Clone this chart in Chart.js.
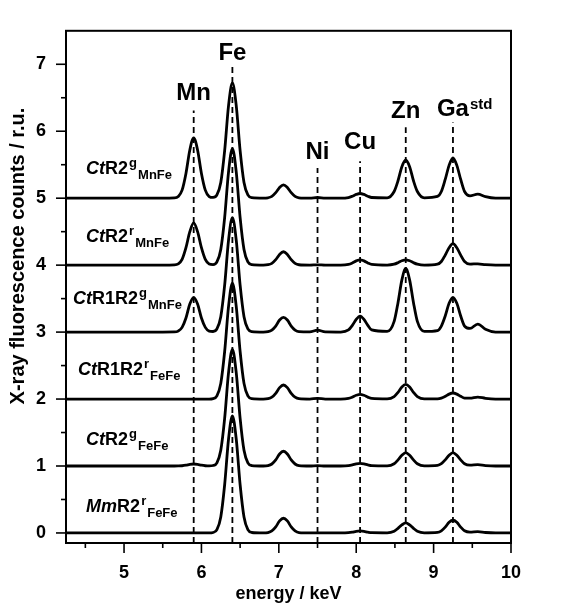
<!DOCTYPE html>
<html lang="en">
<head>
  <meta charset="UTF-8">
  <title>X-ray fluorescence spectra</title>
  <script src="https://cdn.jsdelivr.net/npm/chart.js"></script>
  <style>
    html, body { margin: 0; padding: 0; background: #fff; }
    .chart-box { position: relative; width: 563px; height: 605px; }
  </style>
</head>
<body>
<div class="chart-box"><canvas id="xrfChart"></canvas></div>

<script>
  // energy grid (keV), shared by all spectra
  const energy = [4.25, 5.5, 5.65, 5.7, 5.75, 5.8, 5.85, 5.9, 5.95, 6.0,
    6.05, 6.1, 6.15, 6.2, 6.25, 6.3, 6.35, 6.4, 6.45, 6.5,
    6.55, 6.6, 6.65, 6.8, 6.86, 6.91, 6.96, 7.01, 7.06, 7.11,
    7.16, 7.21, 7.26, 7.4, 7.5, 7.6, 7.8, 7.9, 7.95, 8.0,
    8.05, 8.1, 8.15, 8.2, 8.4, 8.49, 8.54, 8.59, 8.64, 8.69,
    8.74, 8.79, 8.88, 9.05, 9.1, 9.15, 9.2, 9.25, 9.3, 9.35,
    9.4, 9.47, 9.57, 9.67, 9.8, 10.0];

  // counts (r.u.), bottom trace first
  const mmR2rFeFe = [0, 0, 0, 0, 0, 0, 0, 0, 0, 0,
    0, 0, .007, .049, .24, .72, 1.4, 1.75, 1.4, .72,
    .24, .049, .007, 0, .006, .03, .09, .18, .22, .18,
    .09, .03, .006, 0, 0, 0, 0, .004, .012, .024,
    .03, .024, .012, .004, .002, .026, .069, .12, .15, .12,
    .069, .026, .002, .008, .032, .087, .16, .19, .16, .087,
    .032, .012, .02, .007, 0, 0];
  const ctR2gFeFe = [0, 0, 0, .001, .004, .012, .024, .03, .024, .012,
    .004, .001, .007, .048, .235, .71, 1.39, 1.74, 1.39, .71,
    .235, .048, .007, 0, .006, .03, .09, .18, .22, .18,
    .09, .03, .006, 0, .005, 0, 0, .005, .016, .032,
    .04, .032, .016, .005, .002, .034, .092, .16, .2, .16,
    .092, .034, .002, .009, .034, .092, .16, .2, .16, .092,
    .034, .012, .02, .007, 0, 0];
  const ctR1R2rFeFe = [0, 0, 0, 0, 0, 0, 0, 0, 0, 0,
    0, 0, .007, .048, .234, .71, 1.38, 1.73, 1.38, .71,
    .234, .048, .007, 0, .006, .028, .086, .17, .21, .17,
    .086, .028, .006, 0, .01, 0, 0, .009, .029, .056,
    .07, .056, .029, .009, .002, .037, .1, .18, .22, .18,
    .1, .037, .002, .004, .015, .041, .074, .09, .074, .041,
    .015, .013, .03, .011, 0, 0];
  const ctR1R2gMnFe = [0, 0, .002, .015, .07, .21, .42, .52, .42, .21,
    .07, .015, .009, .047, .23, .7, 1.37, 1.71, 1.37, .7,
    .23, .047, .007, 0, .006, .03, .09, .18, .22, .18,
    .09, .03, .006, .003, .03, .003, .001, .032, .1, .19,
    .24, .19, .1, .032, .01, .16, .44, .78, .95, .78,
    .44, .16, .01, .023, .09, .24, .43, .52, .43, .24,
    .09, .055, .12, .043, .001, 0];
  const ctR2rMnFe = [0, 0, .003, .018, .085, .26, .5, .63, .5, .26,
    .085, .018, .009, .048, .235, .71, 1.39, 1.74, 1.39, .71,
    .235, .048, .007, 0, .006, .027, .082, .16, .2, .16,
    .082, .027, .006, 0, .005, 0, 0, .011, .033, .064,
    .08, .064, .033, .011, .001, .014, .037, .066, .08, .066,
    .037, .014, 0, .014, .054, .15, .26, .32, .26, .15,
    .054, .015, .02, .007, 0, 0];
  const ctR2gMnFe = [0, 0, .004, .025, .12, .37, .72, .9, .72, .37,
    .12, .025, .011, .048, .234, .71, 1.38, 1.72, 1.38, .71,
    .234, .048, .007, 0, .006, .027, .082, .16, .2, .16,
    .082, .027, .006, 0, .01, 0, 0, .01, .03, .056,
    .07, .056, .03, .01, .006, .1, .26, .47, .57, .47,
    .26, .1, .006, .026, .1, .28, .49, .6, .49, .28,
    .1, .036, .06, .022, 0, 0];

  const spectra = [mmR2rFeFe, ctR2gFeFe, ctR1R2rFeFe, ctR1R2gMnFe, ctR2rMnFe, ctR2gMnFe];
  const offsets = [0, 1, 2, 3, 4, 5];

  // sample labels: italic organism prefix, protein, superscript, subscript
  const labelPrefix = ['Mm', 'Ct', 'Ct', 'Ct', 'Ct', 'Ct'];
  const labelCore = ['R2', 'R2', 'R1R2', 'R1R2', 'R2', 'R2'];
  const labelSup = ['r', 'g', 'r', 'g', 'r', 'g'];
  const labelSub = ['FeFe', 'FeFe', 'FeFe', 'MnFe', 'MnFe', 'MnFe'];
  const labelX = [4.51, 4.51, 4.405, 4.34, 4.51, 4.51];
  const labelY = [0.31, 1.31, 2.36, 3.42, 4.35, 5.36];

  // element emission lines
  const lineNames = ['Mn', 'Fe', 'Ni', 'Cu', 'Zn', 'Ga'];
  const lineEnergy = [5.9, 6.4, 7.5, 8.05, 8.64, 9.25];
  const lineTop = [6.31, 6.96, 5.45, 5.55, 6.06, 6.13];
  const lineTextY = [6.46, 7.07, 5.59, 5.74, 6.2, 6.23];

  // axis ticks
  const xTicks = [4.5, 5, 5.5, 6, 6.5, 7, 7.5, 8, 8.5, 9, 9.5, 10];
  const yTicks = [0, 0.5, 1, 1.5, 2, 2.5, 3, 3.5, 4, 4.5, 5, 5.5, 6, 6.5, 7];

  const FONT = "'Liberation Sans', Arial, sans-serif";

  const decorPlugin = {
    id: 'decor',
    afterDatasetsDraw(chart) {
      const { ctx, chartArea: a, scales: { x, y } } = chart;
      ctx.save();

      // dashed emission lines
      ctx.strokeStyle = '#000';
      ctx.lineWidth = 1.8;
      ctx.setLineDash([6, 4]);
      lineEnergy.forEach((e, i) => {
        const px = x.getPixelForValue(e);
        ctx.beginPath();
        ctx.moveTo(px, a.bottom);
        ctx.lineTo(px, y.getPixelForValue(lineTop[i]));
        ctx.stroke();
      });
      ctx.setLineDash([]);

      // frame
      ctx.lineWidth = 2;
      ctx.strokeRect(a.left, a.top, a.right - a.left, a.bottom - a.top);

      // tick marks, major and minor
      ctx.lineWidth = 1.6;
      xTicks.forEach(v => {
        const px = x.getPixelForValue(v);
        const len = Number.isInteger(v) ? 10 : 5;
        ctx.beginPath();
        ctx.moveTo(px, a.bottom);
        ctx.lineTo(px, a.bottom + len);
        ctx.stroke();
      });
      yTicks.forEach(v => {
        const py = y.getPixelForValue(v);
        const len = Number.isInteger(v) ? 10 : 5;
        ctx.beginPath();
        ctx.moveTo(a.left, py);
        ctx.lineTo(a.left - len, py);
        ctx.stroke();
      });

      // element labels
      ctx.fillStyle = '#000';
      ctx.textBaseline = 'alphabetic';
      lineNames.forEach((n, i) => {
        const px = x.getPixelForValue(lineEnergy[i]);
        const py = y.getPixelForValue(lineTextY[i]);
        ctx.font = 'bold 24px ' + FONT;
        ctx.textAlign = 'center';
        ctx.fillText(n, px, py);
        if (n === 'Ga') {
          const w = ctx.measureText(n).width;
          ctx.font = 'bold 15px ' + FONT;
          ctx.textAlign = 'left';
          ctx.fillText('std', px + w / 2 + 1, py - 7);
        }
      });

      // sample labels
      ctx.textAlign = 'left';
      spectra.forEach((s, i) => {
        let px = x.getPixelForValue(labelX[i]);
        const py = y.getPixelForValue(labelY[i]);
        ctx.font = 'italic bold 18px ' + FONT;
        ctx.fillText(labelPrefix[i], px, py);
        px += ctx.measureText(labelPrefix[i]).width;
        ctx.font = 'bold 18px ' + FONT;
        ctx.fillText(labelCore[i], px, py);
        px += ctx.measureText(labelCore[i]).width + 1;
        ctx.font = 'bold 13px ' + FONT;
        ctx.fillText(labelSup[i], px, py - 7);
        px += ctx.measureText(labelSup[i]).width + 1;
        ctx.fillText(labelSub[i], px, py + 5);
      });

      // y axis title
      ctx.font = 'bold 20px ' + FONT;
      ctx.textAlign = 'center';
      ctx.textBaseline = 'middle';
      ctx.translate(18, 256);
      ctx.rotate(-Math.PI / 2);
      ctx.fillText('X-ray fluorescence counts / r.u.', 0, 0);

      ctx.restore();
    }
  };

  const datasets = spectra.map((s, i) => ({
    label: labelPrefix[i] + labelCore[i] + labelSup[i] + labelSub[i],
    data: energy.map((e, k) => ({ x: e, y: s[k] + offsets[i] })),
    borderColor: '#000',
    borderWidth: 2.8,
    pointRadius: 0,
    fill: false,
    cubicInterpolationMode: 'monotone'
  }));

  new Chart(document.getElementById('xrfChart'), {
    type: 'line',
    data: { datasets },
    options: {
      responsive: true,
      maintainAspectRatio: false,
      animation: false,
      layout: { padding: { top: 15, right: 52, left: 0, bottom: 0 } },
      plugins: {
        legend: { display: false },
        tooltip: { enabled: false }
      },
      scales: {
        x: {
          type: 'linear',
          min: 4.25,
          max: 10,
          afterBuildTicks: s => { s.ticks = xTicks.map(v => ({ value: v })); },
          afterFit: s => { s.height = 62; },
          grid: { display: false, drawTicks: false },
          border: { display: false },
          ticks: {
            autoSkip: false,
            maxRotation: 0,
            padding: 19,
            color: '#000',
            font: { family: FONT, size: 18, weight: 'bold' },
            callback: v => Number.isInteger(v) ? String(v) : ''
          },
          title: {
            display: true,
            text: 'energy / keV',
            color: '#000',
            padding: { top: 0, bottom: 0 },
            font: { family: FONT, size: 18, weight: 'bold' }
          }
        },
        y: {
          min: -0.15,
          max: 7.5,
          afterBuildTicks: s => { s.ticks = yTicks.map(v => ({ value: v })); },
          afterFit: s => { s.width = 66; },
          grid: { display: false, drawTicks: false },
          border: { display: false },
          ticks: {
            autoSkip: false,
            padding: 20,
            color: '#000',
            font: { family: FONT, size: 18, weight: 'bold' },
            callback: v => Number.isInteger(v) ? String(v) : ''
          }
        }
      }
    },
    plugins: [decorPlugin]
  });
</script>
</body>
</html>
